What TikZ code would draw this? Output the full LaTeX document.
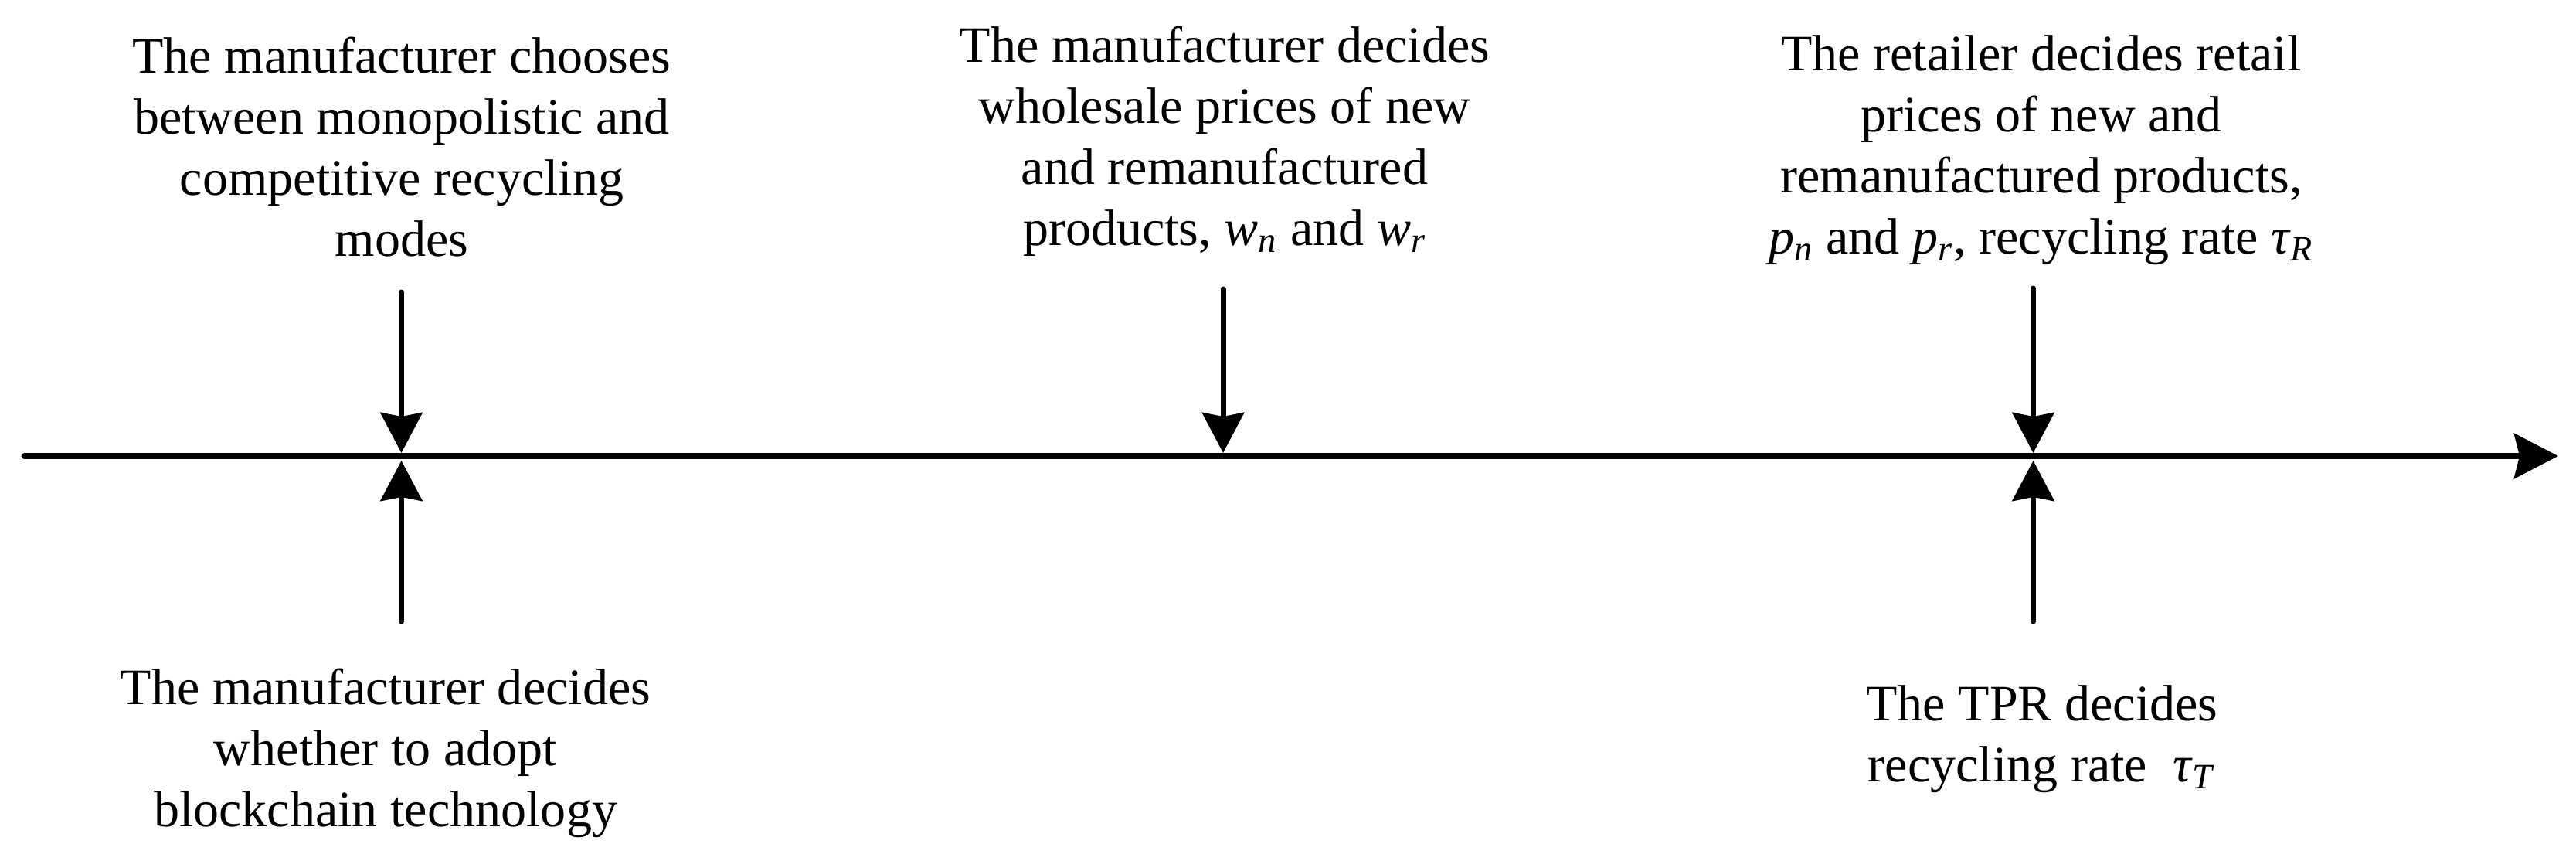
\documentclass[tikz,border=0pt]{standalone}
\usepackage{fontspec}
\setmainfont{Liberation Serif}
\usepackage{tikz}
\usetikzlibrary{arrows.meta,positioning}

\begin{document}
\begin{tikzpicture}
	\tikzstyle{every node} = [align = center, inner sep = 0pt, font = \fontsize{18.8}{22.5}\selectfont]
	\tikzstyle{stage} = [line width = 0.07cm, line cap = round, -{Stealth[length = 0.52cm, width = 0.54cm, inset = 0.05cm]}]
	\useasboundingbox (0, 0) rectangle (33.34, 11.13);
\coordinate (t0) at (0.315, 5.23);
\coordinate (tend) at (33.11, 5.23);
\coordinate (a1) at (5.195, 7.35);
\coordinate (a2) at (15.83, 7.39);
\coordinate (a3) at (26.315, 7.40);
\coordinate (p1) at (5.195, 5.27);
\coordinate (p2) at (15.83, 5.27);
\coordinate (p3) at (26.315, 5.27);
\coordinate (q1) at (5.195, 5.17);
\coordinate (q3) at (26.315, 5.17);
\coordinate (b1) at (5.195, 3.09);
\coordinate (b3) at (26.315, 3.09);

\node[anchor = south] (up1) at (5.2, 7.572) {The manufacturer chooses\\between monopolistic and\\competitive recycling\\modes\strut};
\node[anchor = south] (up2) at (15.85, 7.712) {The manufacturer decides\\wholesale prices of new\\and remanufactured\\products, \textit{w}\textsubscript{\textit{n}} and \textit{w}\textsubscript{\textit{r}}\strut};
\node[anchor = south] (up3) at (26.42, 7.602) {The retailer decides retail\\prices of new and\\remanufactured products,\\\textit{p}\textsubscript{\textit{n}} and \textit{p}\textsubscript{\textit{r}}, recycling rate \textit{τ}\textsubscript{\textit{R}}\strut};
\node[anchor = north] (down1) at (4.99, 2.576) {\strut The manufacturer decides\\whether to adopt\\blockchain technology};
\node[anchor = north] (down3) at (26.43, 2.366) {\strut The TPR decides\\recycling rate\ \ \textit{τ}\textsubscript{\textit{T}}};

	\path[draw, line width = 0.08cm, line cap = round, -{Stealth[length = 0.57cm, width = 0.58cm, inset = 0.07cm]}] (t0) -- (tend);
	\path[draw, stage] (a1) -- (p1);
	\path[draw, stage] (a2) -- (p2);
	\path[draw, stage] (a3) -- (p3);
	\path[draw, stage] (b1) -- (q1);
	\path[draw, stage] (b3) -- (q3);
	\end{tikzpicture}
\end{document}
